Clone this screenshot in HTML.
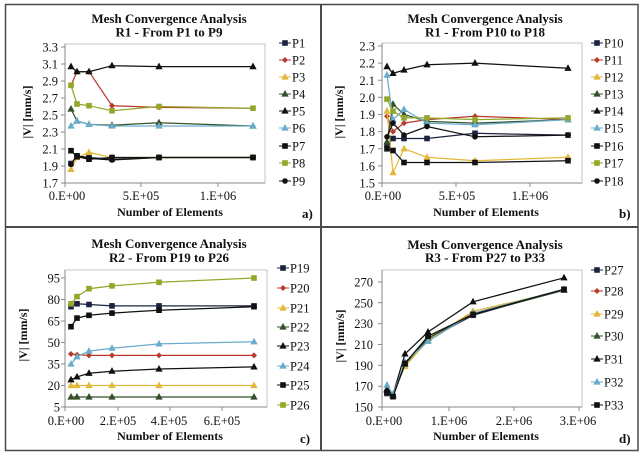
<!DOCTYPE html>
<html><head><meta charset="utf-8"><style>
html,body{margin:0;padding:0;background:#fff;}
svg{display:block;}
text{font-family:"Liberation Serif","Times New Roman",serif;fill:#111;}
.t{font-size:13px;font-weight:bold;text-anchor:middle;}
.ax{font-size:12px;font-weight:bold;text-anchor:middle;}
.yl{font-size:12.5px;text-anchor:end;}
.xl{font-size:12.5px;text-anchor:middle;}
.lg{font-size:12.5px;}
.lt{font-size:13px;font-weight:bold;}
.pa{fill:#fff;stroke:#c4c4c4;stroke-width:1;}
.axl{stroke:#8a8a8a;stroke-width:1;fill:none;}
polyline{fill:none;stroke-width:1.25;}
</style></head><body>
<svg width="642" height="456" viewBox="0 0 642 456" xmlns="http://www.w3.org/2000/svg">
<defs>
<rect id="sq" x="-2.3" y="-2.3" width="4.6" height="4.6"/>
<polygon id="tr" points="0,-3 2.8,2.1 -2.8,2.1"/>
<polygon id="di" points="0,-2.3 2.3,0 0,2.3 -2.3,0"/>
<circle id="ci" r="2.3"/>
</defs>
<rect x="0" y="0" width="642" height="456" fill="#fff"/>
<rect x="5.5" y="4.5" width="632.5" height="446" fill="none" stroke="#4a4a4a" stroke-width="1.5"/>
<line x1="321" y1="4" x2="321" y2="451" stroke="#4a4a4a" stroke-width="2"/>
<line x1="5" y1="227" x2="638" y2="227" stroke="#4a4a4a" stroke-width="2"/>

<!-- ================= PANEL A ================= -->
<text class="t" x="169" y="23">Mesh Convergence Analysis</text>
<text class="t" x="169" y="36.5">R1 - From P1 to P9</text>
<rect class="pa" x="65" y="44" width="200" height="139"/>
<path class="axl" d="M65,44V183H265"/>
<path class="axl" d="M61,47H65M61,64H65M61,81H65M61,98H65M61,115H65M61,132H65M61,149H65M61,166H65M61,183H65M65,183V187M141,183V187M218,183V187"/>
<text class="yl" x="58" y="51.5">3.3</text>
<text class="yl" x="58" y="68.5">3.1</text>
<text class="yl" x="58" y="85.5">2.9</text>
<text class="yl" x="58" y="102.5">2.7</text>
<text class="yl" x="58" y="119.5">2.5</text>
<text class="yl" x="58" y="136.5">2.3</text>
<text class="yl" x="58" y="153.5">2.1</text>
<text class="yl" x="58" y="170.5">1.9</text>
<text class="yl" x="58" y="187.5">1.7</text>
<text class="xl" x="67" y="200">0.E+00</text>
<text class="xl" x="141" y="200">5.E+05</text>
<text class="xl" x="218" y="200">1.E+06</text>
<text class="ax" x="170" y="216">Number of Elements</text>
<text class="ax" transform="translate(31,112) rotate(-90)">|V| [mm/s]</text>
<text class="lt" x="302" y="218">a)</text>

<g stroke="#1c2340" fill="#1c2340"><polyline points="71,163.5 77,155.8 89,157.5 112,159.2 159,157.5 253,157.5"/>
<use href="#sq" x="71" y="163.5"/><use href="#sq" x="77" y="155.8"/><use href="#sq" x="89" y="157.5"/><use href="#sq" x="112" y="159.2"/><use href="#sq" x="159" y="157.5"/><use href="#sq" x="253" y="157.5"/></g>
<g stroke="#b83a2e" fill="#b83a2e"><polyline points="71,85.3 77,71.7 89,71.7 112,105.7 159,107.4 253,108.2"/>
<use href="#di" x="71" y="85.3"/><use href="#di" x="77" y="71.7"/><use href="#di" x="89" y="71.7"/><use href="#di" x="112" y="105.7"/><use href="#di" x="159" y="107.4"/><use href="#di" x="253" y="108.2"/></g>
<g stroke="#e3b83a" fill="#e3b83a"><polyline points="71,169.4 77,157.5 89,152.4 112,157.5 159,157.5 253,157.5"/>
<use href="#tr" x="71" y="169.4"/><use href="#tr" x="77" y="157.5"/><use href="#tr" x="89" y="152.4"/><use href="#tr" x="112" y="157.5"/><use href="#tr" x="159" y="157.5"/><use href="#tr" x="253" y="157.5"/></g>
<g stroke="#34502a" fill="#34502a"><polyline points="71,109 77,121 89,124.4 112,125.2 159,122.7 253,126"/>
<use href="#tr" x="71" y="109"/><use href="#tr" x="77" y="121"/><use href="#tr" x="89" y="124.4"/><use href="#tr" x="112" y="125.2"/><use href="#tr" x="159" y="122.7"/><use href="#tr" x="253" y="126"/></g>
<g stroke="#111" fill="#111"><polyline points="71,66.6 77,71.7 89,71.7 112,65.7 159,66.6 253,66.6"/>
<use href="#tr" x="71" y="66.6"/><use href="#tr" x="77" y="71.7"/><use href="#tr" x="89" y="71.7"/><use href="#tr" x="112" y="65.7"/><use href="#tr" x="159" y="66.6"/><use href="#tr" x="253" y="66.6"/></g>
<g stroke="#6aaccc" fill="#6aaccc"><polyline points="71,126 77,121 89,124.4 112,126 159,126 253,126"/>
<use href="#tr" x="71" y="126"/><use href="#tr" x="77" y="121"/><use href="#tr" x="89" y="124.4"/><use href="#tr" x="112" y="126"/><use href="#tr" x="159" y="126"/><use href="#tr" x="253" y="126"/></g>
<g stroke="#111" fill="#111"><polyline points="71,150.7 77,156.7 89,159.2 112,157.5 159,157.5 253,157.5"/>
<use href="#sq" x="71" y="150.7"/><use href="#sq" x="77" y="156.7"/><use href="#sq" x="89" y="159.2"/><use href="#sq" x="112" y="157.5"/><use href="#sq" x="159" y="157.5"/><use href="#sq" x="253" y="157.5"/></g>
<g stroke="#93a82a" fill="#93a82a"><polyline points="71,85.3 77,104 89,105.7 112,110.8 159,106.5 253,108.2"/>
<use href="#sq" x="71" y="85.3"/><use href="#sq" x="77" y="104"/><use href="#sq" x="89" y="105.7"/><use href="#sq" x="112" y="110.8"/><use href="#sq" x="159" y="106.5"/><use href="#sq" x="253" y="108.2"/></g>
<g stroke="#111" fill="#111"><polyline points="71,164.3 77,155.8 89,158.4 112,160 159,157.5 253,157.5"/>
<use href="#ci" x="71" y="164.3"/><use href="#ci" x="77" y="155.8"/><use href="#ci" x="89" y="158.4"/><use href="#ci" x="112" y="160"/><use href="#ci" x="159" y="157.5"/><use href="#ci" x="253" y="157.5"/></g>

<g stroke="#1c2340" fill="#1c2340"><line x1="279" y1="43" x2="291" y2="43"/><use href="#sq" x="285" y="43"/></g>
<g stroke="#b83a2e" fill="#b83a2e"><line x1="279" y1="60" x2="291" y2="60"/><use href="#di" x="285" y="60"/></g>
<g stroke="#e3b83a" fill="#e3b83a"><line x1="279" y1="77" x2="291" y2="77"/><use href="#tr" x="285" y="77"/></g>
<g stroke="#34502a" fill="#34502a"><line x1="279" y1="94" x2="291" y2="94"/><use href="#tr" x="285" y="94"/></g>
<g stroke="#111" fill="#111"><line x1="279" y1="111" x2="291" y2="111"/><use href="#tr" x="285" y="111"/></g>
<g stroke="#6aaccc" fill="#6aaccc"><line x1="279" y1="128" x2="291" y2="128"/><use href="#tr" x="285" y="128"/></g>
<g stroke="#111" fill="#111"><line x1="279" y1="146" x2="291" y2="146"/><use href="#sq" x="285" y="146"/></g>
<g stroke="#93a82a" fill="#93a82a"><line x1="279" y1="163" x2="291" y2="163"/><use href="#sq" x="285" y="163"/></g>
<g stroke="#111" fill="#111"><line x1="279" y1="181" x2="291" y2="181"/><use href="#ci" x="285" y="181"/></g>
<text class="lg" x="292" y="47.5">P1</text>
<text class="lg" x="292" y="64.5">P2</text>
<text class="lg" x="292" y="81.5">P3</text>
<text class="lg" x="292" y="98.5">P4</text>
<text class="lg" x="292" y="115.5">P5</text>
<text class="lg" x="292" y="132.5">P6</text>
<text class="lg" x="292" y="150.5">P7</text>
<text class="lg" x="292" y="167.5">P8</text>
<text class="lg" x="292" y="185.5">P9</text>

<!-- ================= PANEL B ================= -->
<text class="t" x="485" y="23">Mesh Convergence Analysis</text>
<text class="t" x="485" y="36.5">R1 - From P10 to P18</text>
<rect class="pa" x="382" y="43" width="200" height="140"/>
<path class="axl" d="M382,43V183H582"/>
<path class="axl" d="M378,46H382M378,63.1H382M378,80.3H382M378,97.4H382M378,114.5H382M378,131.6H382M378,148.8H382M378,165.9H382M378,183H382M382,183V187M456,183V187M530,183V187"/>
<text class="yl" x="375" y="50.5">2.3</text>
<text class="yl" x="375" y="67.6">2.2</text>
<text class="yl" x="375" y="84.8">2.1</text>
<text class="yl" x="375" y="101.9">2.0</text>
<text class="yl" x="375" y="119">1.9</text>
<text class="yl" x="375" y="136.1">1.8</text>
<text class="yl" x="375" y="153.3">1.7</text>
<text class="yl" x="375" y="170.4">1.6</text>
<text class="yl" x="375" y="187.5">1.5</text>
<text class="xl" x="383" y="200">0.E+00</text>
<text class="xl" x="457" y="200">5.E+05</text>
<text class="xl" x="530" y="200">1.E+06</text>
<text class="ax" x="486" y="216">Number of Elements</text>
<text class="ax" transform="translate(343,112) rotate(-90)">|V| [mm/s]</text>
<text class="lt" x="619" y="218">b)</text>

<g stroke="#1c2340" fill="#1c2340"><polyline points="387,145.3 393,138.5 404,138.5 427,138.5 475,133.3 568,135.1"/>
<use href="#sq" x="387" y="145.3"/><use href="#sq" x="393" y="138.5"/><use href="#sq" x="404" y="138.5"/><use href="#sq" x="427" y="138.5"/><use href="#sq" x="475" y="133.3"/><use href="#sq" x="568" y="135.1"/></g>
<g stroke="#b83a2e" fill="#b83a2e"><polyline points="387,116.2 393,131.6 404,123.1 427,119.6 475,116.2 568,119.6"/>
<use href="#di" x="387" y="116.2"/><use href="#di" x="393" y="131.6"/><use href="#di" x="404" y="123.1"/><use href="#di" x="427" y="119.6"/><use href="#di" x="475" y="116.2"/><use href="#di" x="568" y="119.6"/></g>
<g stroke="#e3b83a" fill="#e3b83a"><polyline points="387,111.1 393,172.7 404,148.8 427,157.3 475,160.7 568,157.3"/>
<use href="#tr" x="387" y="111.1"/><use href="#tr" x="393" y="172.7"/><use href="#tr" x="404" y="148.8"/><use href="#tr" x="427" y="157.3"/><use href="#tr" x="475" y="160.7"/><use href="#tr" x="568" y="157.3"/></g>
<g stroke="#34502a" fill="#34502a"><polyline points="387,141.9 393,104.2 404,114.5 427,121.4 475,123.1 568,119.6"/>
<use href="#tr" x="387" y="141.9"/><use href="#tr" x="393" y="104.2"/><use href="#tr" x="404" y="114.5"/><use href="#tr" x="427" y="121.4"/><use href="#tr" x="475" y="123.1"/><use href="#tr" x="568" y="119.6"/></g>
<g stroke="#111" fill="#111"><polyline points="387,66.6 393,73.4 404,70 427,64.8 475,63.1 568,68.3"/>
<use href="#tr" x="387" y="66.6"/><use href="#tr" x="393" y="73.4"/><use href="#tr" x="404" y="70"/><use href="#tr" x="427" y="64.8"/><use href="#tr" x="475" y="63.1"/><use href="#tr" x="568" y="68.3"/></g>
<g stroke="#6aaccc" fill="#6aaccc"><polyline points="387,75.1 393,119.6 404,109.4 427,123.1 475,124.8 568,119.6"/>
<use href="#tr" x="387" y="75.1"/><use href="#tr" x="393" y="119.6"/><use href="#tr" x="404" y="109.4"/><use href="#tr" x="427" y="123.1"/><use href="#tr" x="475" y="124.8"/><use href="#tr" x="568" y="119.6"/></g>
<g stroke="#111" fill="#111"><polyline points="387,148.8 393,150.5 404,162.5 427,162.5 475,162.5 568,160.7"/>
<use href="#sq" x="387" y="148.8"/><use href="#sq" x="393" y="150.5"/><use href="#sq" x="404" y="162.5"/><use href="#sq" x="427" y="162.5"/><use href="#sq" x="475" y="162.5"/><use href="#sq" x="568" y="160.7"/></g>
<g stroke="#93a82a" fill="#93a82a"><polyline points="387,99.1 393,111.1 404,117.9 427,117.9 475,119.6 568,117.9"/>
<use href="#sq" x="387" y="99.1"/><use href="#sq" x="393" y="111.1"/><use href="#sq" x="404" y="117.9"/><use href="#sq" x="427" y="117.9"/><use href="#sq" x="475" y="119.6"/><use href="#sq" x="568" y="117.9"/></g>
<g stroke="#111" fill="#111"><polyline points="387,136.8 393,123.1 404,135.1 427,126.5 475,136.8 568,135.1"/>
<use href="#ci" x="387" y="136.8"/><use href="#ci" x="393" y="123.1"/><use href="#ci" x="404" y="135.1"/><use href="#ci" x="427" y="126.5"/><use href="#ci" x="475" y="136.8"/><use href="#ci" x="568" y="135.1"/></g>

<g stroke="#1c2340" fill="#1c2340"><line x1="591" y1="43" x2="603" y2="43"/><use href="#sq" x="597" y="43"/></g>
<g stroke="#b83a2e" fill="#b83a2e"><line x1="591" y1="60" x2="603" y2="60"/><use href="#di" x="597" y="60"/></g>
<g stroke="#e3b83a" fill="#e3b83a"><line x1="591" y1="77" x2="603" y2="77"/><use href="#tr" x="597" y="77"/></g>
<g stroke="#34502a" fill="#34502a"><line x1="591" y1="94" x2="603" y2="94"/><use href="#tr" x="597" y="94"/></g>
<g stroke="#111" fill="#111"><line x1="591" y1="111" x2="603" y2="111"/><use href="#tr" x="597" y="111"/></g>
<g stroke="#6aaccc" fill="#6aaccc"><line x1="591" y1="128" x2="603" y2="128"/><use href="#tr" x="597" y="128"/></g>
<g stroke="#111" fill="#111"><line x1="591" y1="146" x2="603" y2="146"/><use href="#sq" x="597" y="146"/></g>
<g stroke="#93a82a" fill="#93a82a"><line x1="591" y1="163" x2="603" y2="163"/><use href="#sq" x="597" y="163"/></g>
<g stroke="#111" fill="#111"><line x1="591" y1="181" x2="603" y2="181"/><use href="#ci" x="597" y="181"/></g>
<text class="lg" x="604" y="47.5">P10</text>
<text class="lg" x="604" y="64.5">P11</text>
<text class="lg" x="604" y="81.5">P12</text>
<text class="lg" x="604" y="98.5">P13</text>
<text class="lg" x="604" y="115.5">P14</text>
<text class="lg" x="604" y="132.5">P15</text>
<text class="lg" x="604" y="150.5">P16</text>
<text class="lg" x="604" y="167.5">P17</text>
<text class="lg" x="604" y="185.5">P18</text>

<!-- ================= PANEL C ================= -->
<text class="t" x="169" y="248">Mesh Convergence Analysis</text>
<text class="t" x="169" y="262">R2 - From P19 to P26</text>
<rect class="pa" x="65" y="270" width="202" height="137"/>
<path class="axl" d="M65,270V407H267"/>
<path class="axl" d="M61,278H65M61,299.5H65M61,321H65M61,342.5H65M61,364H65M61,385.5H65M61,407H65M65,407V411M118,407V411M170,407V411M222,407V411"/>
<text class="yl" x="60" y="282.5">95</text>
<text class="yl" x="60" y="304">80</text>
<text class="yl" x="60" y="325.5">65</text>
<text class="yl" x="60" y="347">50</text>
<text class="yl" x="60" y="368.5">35</text>
<text class="yl" x="60" y="390">20</text>
<text class="yl" x="60" y="411.5">5</text>
<text class="xl" x="66" y="425">0.E+00</text>
<text class="xl" x="118" y="425">2.E+05</text>
<text class="xl" x="169" y="425">4.E+05</text>
<text class="xl" x="222" y="425">6.E+05</text>
<text class="ax" x="170" y="440">Number of Elements</text>
<text class="ax" transform="translate(27,335) rotate(-90)">|V| [mm/s]</text>
<text class="lt" x="300" y="443">c)</text>

<g stroke="#1c2340" fill="#1c2340"><polyline points="71,306.7 77,303.8 89,304.5 112,305.9 159,305.9 254,305.9"/>
<use href="#sq" x="71" y="306.7"/><use href="#sq" x="77" y="303.8"/><use href="#sq" x="89" y="304.5"/><use href="#sq" x="112" y="305.9"/><use href="#sq" x="159" y="305.9"/><use href="#sq" x="254" y="305.9"/></g>
<g stroke="#b83a2e" fill="#b83a2e"><polyline points="71,354 77,354.7 89,355.4 112,355.4 159,355.4 254,355.4"/>
<use href="#di" x="71" y="354"/><use href="#di" x="77" y="354.7"/><use href="#di" x="89" y="355.4"/><use href="#di" x="112" y="355.4"/><use href="#di" x="159" y="355.4"/><use href="#di" x="254" y="355.4"/></g>
<g stroke="#e3b83a" fill="#e3b83a"><polyline points="71,385.5 77,385.5 89,385.5 112,385.5 159,385.5 254,385.5"/>
<use href="#tr" x="71" y="385.5"/><use href="#tr" x="77" y="385.5"/><use href="#tr" x="89" y="385.5"/><use href="#tr" x="112" y="385.5"/><use href="#tr" x="159" y="385.5"/><use href="#tr" x="254" y="385.5"/></g>
<g stroke="#34502a" fill="#34502a"><polyline points="71,397 77,397 89,397 112,397 159,397 254,397"/>
<use href="#tr" x="71" y="397"/><use href="#tr" x="77" y="397"/><use href="#tr" x="89" y="397"/><use href="#tr" x="112" y="397"/><use href="#tr" x="159" y="397"/><use href="#tr" x="254" y="397"/></g>
<g stroke="#111" fill="#111"><polyline points="71,379.8 77,376.9 89,373.3 112,371.2 159,369 254,366.9"/>
<use href="#tr" x="71" y="379.8"/><use href="#tr" x="77" y="376.9"/><use href="#tr" x="89" y="373.3"/><use href="#tr" x="112" y="371.2"/><use href="#tr" x="159" y="369"/><use href="#tr" x="254" y="366.9"/></g>
<g stroke="#6aaccc" fill="#6aaccc"><polyline points="71,364 77,356.8 89,351.1 112,348.2 159,343.9 254,341.8"/>
<use href="#tr" x="71" y="364"/><use href="#tr" x="77" y="356.8"/><use href="#tr" x="89" y="351.1"/><use href="#tr" x="112" y="348.2"/><use href="#tr" x="159" y="343.9"/><use href="#tr" x="254" y="341.8"/></g>
<g stroke="#111" fill="#111"><polyline points="71,326.7 77,318.1 89,315.3 112,313.1 159,310.2 254,306.7"/>
<use href="#sq" x="71" y="326.7"/><use href="#sq" x="77" y="318.1"/><use href="#sq" x="89" y="315.3"/><use href="#sq" x="112" y="313.1"/><use href="#sq" x="159" y="310.2"/><use href="#sq" x="254" y="306.7"/></g>
<g stroke="#93a82a" fill="#93a82a"><polyline points="71,303.8 77,296.6 89,288.7 112,285.9 159,282.3 254,278"/>
<use href="#sq" x="71" y="303.8"/><use href="#sq" x="77" y="296.6"/><use href="#sq" x="89" y="288.7"/><use href="#sq" x="112" y="285.9"/><use href="#sq" x="159" y="282.3"/><use href="#sq" x="254" y="278"/></g>

<g stroke="#1c2340" fill="#1c2340"><line x1="277" y1="268" x2="289" y2="268"/><use href="#sq" x="283" y="268"/></g>
<g stroke="#b83a2e" fill="#b83a2e"><line x1="277" y1="288" x2="289" y2="288"/><use href="#di" x="283" y="288"/></g>
<g stroke="#e3b83a" fill="#e3b83a"><line x1="277" y1="308" x2="289" y2="308"/><use href="#tr" x="283" y="308"/></g>
<g stroke="#34502a" fill="#34502a"><line x1="277" y1="327" x2="289" y2="327"/><use href="#tr" x="283" y="327"/></g>
<g stroke="#111" fill="#111"><line x1="277" y1="346" x2="289" y2="346"/><use href="#tr" x="283" y="346"/></g>
<g stroke="#6aaccc" fill="#6aaccc"><line x1="277" y1="366" x2="289" y2="366"/><use href="#tr" x="283" y="366"/></g>
<g stroke="#111" fill="#111"><line x1="277" y1="385" x2="289" y2="385"/><use href="#sq" x="283" y="385"/></g>
<g stroke="#93a82a" fill="#93a82a"><line x1="277" y1="405" x2="289" y2="405"/><use href="#sq" x="283" y="405"/></g>
<text class="lg" x="290" y="272.5">P19</text>
<text class="lg" x="290" y="292.5">P20</text>
<text class="lg" x="290" y="312.5">P21</text>
<text class="lg" x="290" y="331.5">P22</text>
<text class="lg" x="290" y="350.5">P23</text>
<text class="lg" x="290" y="370.5">P24</text>
<text class="lg" x="290" y="389.5">P25</text>
<text class="lg" x="290" y="409.5">P26</text>

<!-- ================= PANEL D ================= -->
<text class="t" x="485" y="249">Mesh Convergence Analysis</text>
<text class="t" x="485" y="262">R3 - From P27 to P33</text>
<rect class="pa" x="382" y="270" width="200" height="137"/>
<path class="axl" d="M382,270V407H582"/>
<path class="axl" d="M378,282H382M378,302.8H382M378,323.7H382M378,344.5H382M378,365.3H382M378,386.2H382M378,407H382M382,407V411M449,407V411M514,407V411M579,407V411"/>
<text class="yl" x="373" y="286.5">270</text>
<text class="yl" x="373" y="307.3">250</text>
<text class="yl" x="373" y="328.2">230</text>
<text class="yl" x="373" y="349">210</text>
<text class="yl" x="373" y="369.8">190</text>
<text class="yl" x="373" y="390.7">170</text>
<text class="yl" x="373" y="411.5">150</text>
<text class="xl" x="384" y="425">0.E+00</text>
<text class="xl" x="449" y="425">1.E+06</text>
<text class="xl" x="514" y="425">2.E+06</text>
<text class="xl" x="578" y="425">3.E+06</text>
<text class="ax" x="486" y="440">Number of Elements</text>
<text class="ax" transform="translate(344,336) rotate(-90)">|V| [mm/s]</text>
<text class="lt" x="619" y="443">d)</text>

<g stroke="#1c2340" fill="#1c2340"><polyline points="387,393.5 393,396.6 405,363.3 428,339.3 473,315.3 564,289.3"/>
<use href="#sq" x="387" y="393.5"/><use href="#sq" x="393" y="396.6"/><use href="#sq" x="405" y="363.3"/><use href="#sq" x="428" y="339.3"/><use href="#sq" x="473" y="315.3"/><use href="#sq" x="564" y="289.3"/></g>
<g stroke="#b83a2e" fill="#b83a2e"><polyline points="387,391.4 393,394.5 405,363.3 428,338.3 473,313.3 564,289.3"/>
<use href="#di" x="387" y="391.4"/><use href="#di" x="393" y="394.5"/><use href="#di" x="405" y="363.3"/><use href="#di" x="428" y="338.3"/><use href="#di" x="473" y="313.3"/><use href="#di" x="564" y="289.3"/></g>
<g stroke="#e3b83a" fill="#e3b83a"><polyline points="387,389.3 393,394.5 405,366.4 428,340.3 473,311.2 564,290.3"/>
<use href="#tr" x="387" y="389.3"/><use href="#tr" x="393" y="394.5"/><use href="#tr" x="405" y="366.4"/><use href="#tr" x="428" y="340.3"/><use href="#tr" x="473" y="311.2"/><use href="#tr" x="564" y="290.3"/></g>
<g stroke="#34502a" fill="#34502a"><polyline points="387,390.3 393,395.6 405,364.3 428,338.3 473,314.3 564,290.3"/>
<use href="#tr" x="387" y="390.3"/><use href="#tr" x="393" y="395.6"/><use href="#tr" x="405" y="364.3"/><use href="#tr" x="428" y="338.3"/><use href="#tr" x="473" y="314.3"/><use href="#tr" x="564" y="290.3"/></g>
<g stroke="#111" fill="#111"><polyline points="387,389.3 393,394.5 405,353.9 428,332 473,301.8 564,277.8"/>
<use href="#tr" x="387" y="389.3"/><use href="#tr" x="393" y="394.5"/><use href="#tr" x="405" y="353.9"/><use href="#tr" x="428" y="332"/><use href="#tr" x="473" y="301.8"/><use href="#tr" x="564" y="277.8"/></g>
<g stroke="#6aaccc" fill="#6aaccc"><polyline points="387,385.1 393,394.5 405,362.2 428,341.4 473,313.3 564,289.3"/>
<use href="#tr" x="387" y="385.1"/><use href="#tr" x="393" y="394.5"/><use href="#tr" x="405" y="362.2"/><use href="#tr" x="428" y="341.4"/><use href="#tr" x="473" y="313.3"/><use href="#tr" x="564" y="289.3"/></g>
<g stroke="#111" fill="#111"><polyline points="387,392.4 393,396.6 405,363.3 428,336.2 473,314.3 564,289.3"/>
<use href="#sq" x="387" y="392.4"/><use href="#sq" x="393" y="396.6"/><use href="#sq" x="405" y="363.3"/><use href="#sq" x="428" y="336.2"/><use href="#sq" x="473" y="314.3"/><use href="#sq" x="564" y="289.3"/></g>

<g stroke="#1c2340" fill="#1c2340"><line x1="591" y1="270" x2="603" y2="270"/><use href="#sq" x="597" y="270"/></g>
<g stroke="#b83a2e" fill="#b83a2e"><line x1="591" y1="291" x2="603" y2="291"/><use href="#di" x="597" y="291"/></g>
<g stroke="#e3b83a" fill="#e3b83a"><line x1="591" y1="314" x2="603" y2="314"/><use href="#tr" x="597" y="314"/></g>
<g stroke="#34502a" fill="#34502a"><line x1="591" y1="336" x2="603" y2="336"/><use href="#tr" x="597" y="336"/></g>
<g stroke="#111" fill="#111"><line x1="591" y1="359" x2="603" y2="359"/><use href="#tr" x="597" y="359"/></g>
<g stroke="#6aaccc" fill="#6aaccc"><line x1="591" y1="382" x2="603" y2="382"/><use href="#tr" x="597" y="382"/></g>
<g stroke="#111" fill="#111"><line x1="591" y1="405" x2="603" y2="405"/><use href="#sq" x="597" y="405"/></g>
<text class="lg" x="604" y="274.5">P27</text>
<text class="lg" x="604" y="295.5">P28</text>
<text class="lg" x="604" y="318.5">P29</text>
<text class="lg" x="604" y="340.5">P30</text>
<text class="lg" x="604" y="363.5">P31</text>
<text class="lg" x="604" y="386.5">P32</text>
<text class="lg" x="604" y="409.5">P33</text>
</svg>
</body></html>
